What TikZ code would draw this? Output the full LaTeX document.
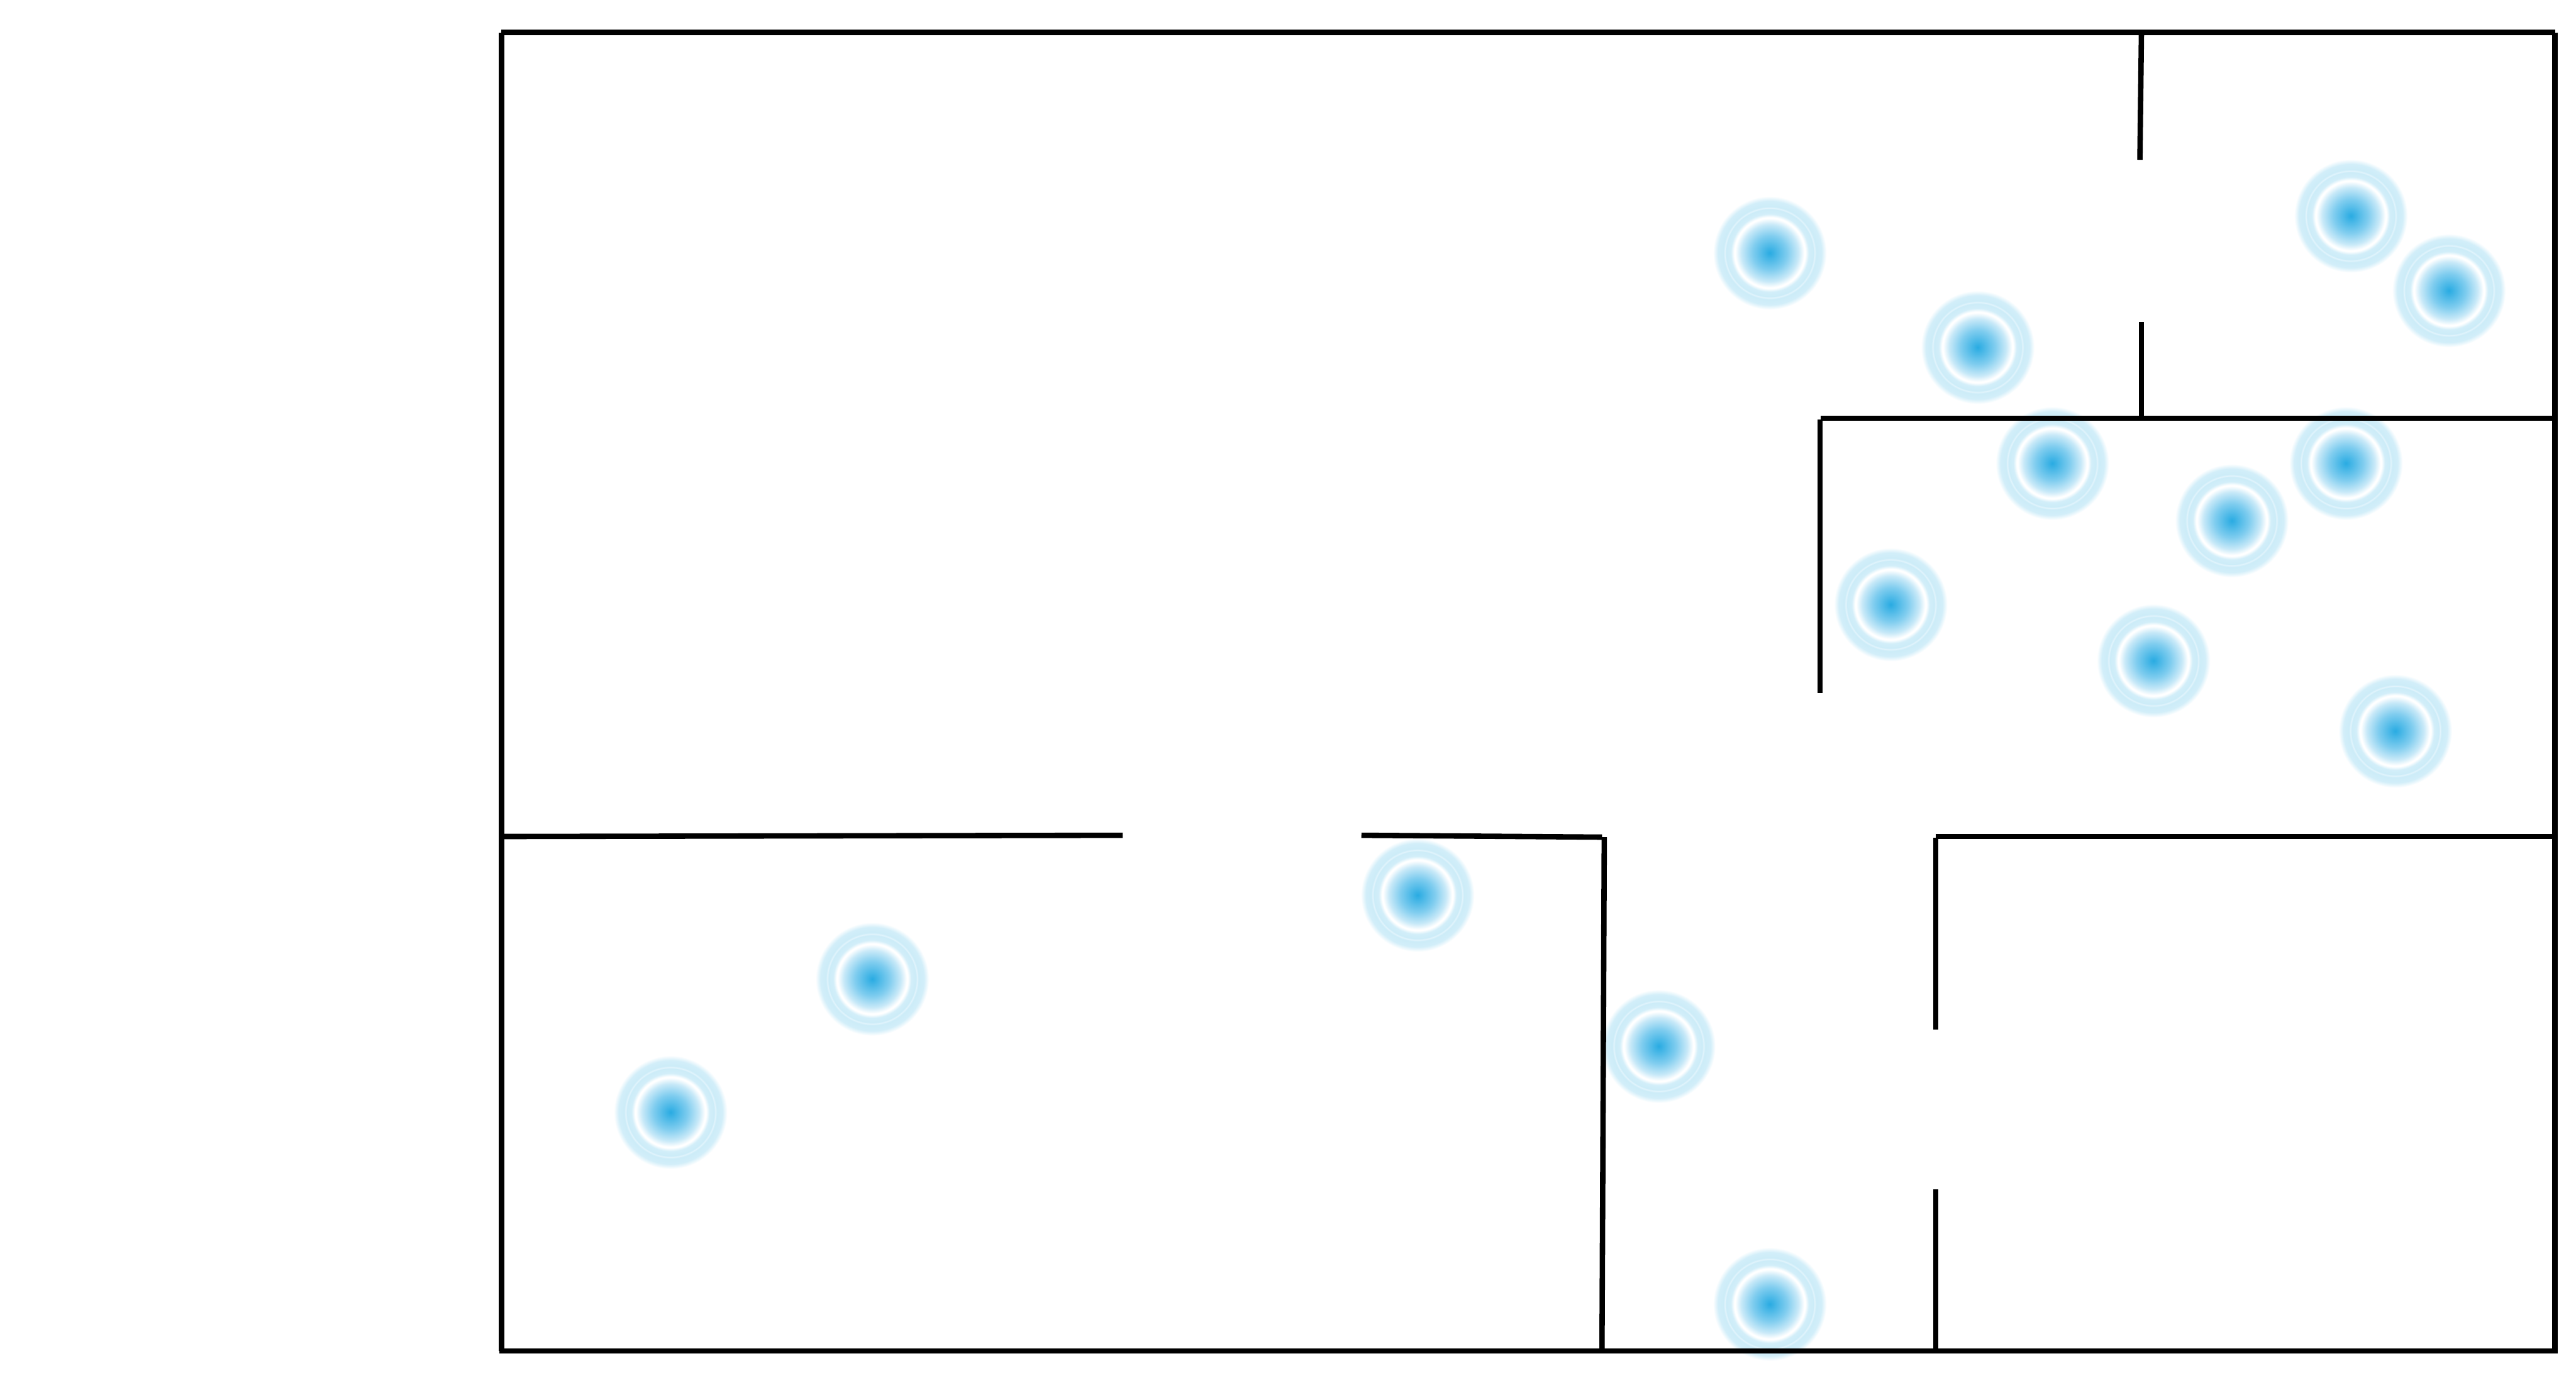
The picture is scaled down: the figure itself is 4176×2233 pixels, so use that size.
\documentclass[tikz,border=0pt]{standalone}
\definecolor{pulse}{HTML}{29ABE2}
\definecolor{pulsemid}{HTML}{80CDEF}
\definecolor{pulseout}{HTML}{C8E9F8}
\definecolor{halo}{HTML}{D2EEF9}
\definecolor{haloline}{HTML}{E2F4FC}
\definecolor{halodeep}{HTML}{CCECF8}
\pgfdeclareradialshading{pulseshade}{\pgfpoint{0bp}{0bp}}{%
  color(0bp)=(pulse);
  color(7.6bp)=(pulsemid);
  color(12.6bp)=(pulseout);
  color(15.2bp)=(white);
  color(15.7bp)=(white);
  color(17.2bp)=(halo);
  color(19.2bp)=(halodeep);
  color(19.8bp)=(haloline);
  color(20.4bp)=(halodeep);
  color(22.8bp)=(halo);
  color(25bp)=(white);
  color(50bp)=(white)}
\tikzset{
  x=0.24pt,y=-0.24pt,
  wall/.style={draw=black,line width=2.1pt,line cap=butt},
  pulsedot/.style={circle,minimum size=44.16pt,inner sep=0pt,outer sep=0pt,
    shading=pulseshade,blend mode=multiply},
}
\begin{document}
\begin{tikzpicture}
\useasboundingbox (0,0) rectangle (4176,2233);
\fill[white] (0,0) rectangle (4176,2233);
% outer walls (separate strokes: their corners are notched)
\draw[wall] (813,52.7) -- (4142,52.7);
\draw[wall] (4142,52.7) -- (4142,2194);
\draw[wall] (810,2190) -- (4142,2190);
\draw[wall] (813.3,52.7) -- (813.3,2190);
% inner walls
\draw[wall] (3471.5,52.7) -- (3469,259);
\draw[wall] (3471.5,522) -- (3471.5,678);
\draw[wall] (2952,678) -- (4142,678);
\draw[wall] (2950.7,680) -- (2950.7,1124);
\draw[wall] (813,1356) -- (1820,1354);
\draw[wall] (2207,1354) -- (2597,1357);
\draw[wall] (2600.7,1357) -- (2597,2190);
\draw[wall] (3138,1356) -- (4142,1356);
\draw[wall] (3138,1358) -- (3138,1669);
\draw[wall] (3138,1928) -- (3138,2190);
% pulses
\foreach \n/\x/\y in {a/2869/410,b/3206/563,c/3811/350,d/3970/471,e/3327/751,f/3803/751,g/3618/844,h/3065/980,i/3491/1071,j/3883/1185,k/2298/1451,l/1414/1587,m/1087/1803,n/2689/1696,o/2869/2114}
  \node[pulsedot] (\n) at (\x,\y) {};
\end{tikzpicture}
\end{document}
